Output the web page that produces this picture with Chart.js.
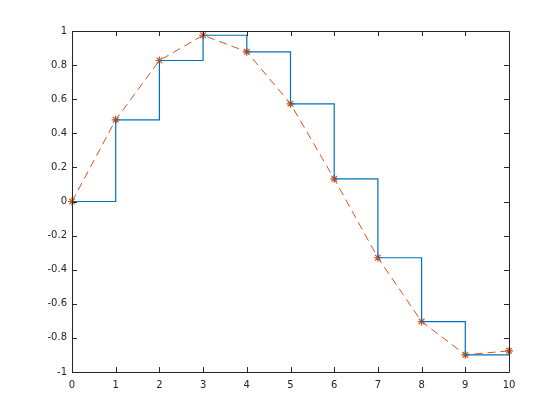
<!DOCTYPE html>
<html>
<head>
<meta charset="utf-8">
<script src="https://cdn.jsdelivr.net/npm/chart.js@4"></script>
<style>
  html, body { margin: 0; padding: 0; background: #fff; }
  canvas { display: block; }
</style>
</head>
<body>
<canvas id="stairsChart" width="560" height="420"></canvas>
<script>
// data
const xValues = [0, 1, 2, 3, 4, 5, 6, 7, 8, 9, 10];
const yValues = [0, 0.479, 0.827, 0.975, 0.878, 0.573, 0.133, -0.330, -0.704, -0.899, -0.876];
const xTicks = [0, 1, 2, 3, 4, 5, 6, 7, 8, 9, 10];
const yTicks = [-1, -0.8, -0.6, -0.4, -0.2, 0, 0.2, 0.4, 0.6, 0.8, 1];

const axisColor = "#262626";
const points = xValues.map(function (x, i) {
  return { x: x, y: yValues[i] };
});

// box around the plot area, ticks pointing inwards on all four sides
const boxTicks = {
  id: "boxTicks",
  afterDraw: function (chart) {
    const ctx = chart.ctx;
    const area = chart.chartArea;
    const xs = chart.scales.x;
    const ys = chart.scales.y;
    const len = 5;
    ctx.save();
    ctx.strokeStyle = axisColor;
    ctx.lineWidth = 1;
    ctx.beginPath();
    ctx.rect(area.left + 0.5, area.top + 0.5, area.right - area.left, area.bottom - area.top);
    xTicks.forEach(function (v) {
      const px = Math.round(xs.getPixelForValue(v)) + 0.5;
      ctx.moveTo(px, area.bottom);
      ctx.lineTo(px, area.bottom - len);
      ctx.moveTo(px, area.top);
      ctx.lineTo(px, area.top + len);
    });
    yTicks.forEach(function (v) {
      const py = Math.round(ys.getPixelForValue(v)) + 0.5;
      ctx.moveTo(area.left, py);
      ctx.lineTo(area.left + len, py);
      ctx.moveTo(area.right, py);
      ctx.lineTo(area.right - len, py);
    });
    ctx.stroke();
    ctx.restore();
  },
};

new Chart(document.getElementById("stairsChart"), {
  type: "line",
  data: {
    datasets: [
      {
        label: "stairs",
        data: points,
        stepped: true,
        borderColor: "#0072BD",
        borderWidth: 1.2,
        pointRadius: 0,
        fill: false,
      },
      {
        label: "curve",
        data: points,
        borderColor: "#D95319",
        borderWidth: 1,
        borderDash: [8, 5],
        tension: 0,
        pointStyle: "star",
        pointRadius: 4,
        pointBorderWidth: 1.2,
        pointBorderColor: "#D95319",
        pointBackgroundColor: "#D95319",
        fill: false,
        clip: false,
      },
    ],
  },
  options: {
    responsive: false,
    animation: false,
    layout: { padding: { top: 31, right: 51, left: 0, bottom: 0 } },
    plugins: {
      legend: { display: false },
      tooltip: { enabled: false },
    },
    scales: {
      x: {
        type: "linear",
        min: 0,
        max: 10,
        afterFit: function (scale) { scale.height = 48; },
        afterBuildTicks: function (scale) {
          scale.ticks = xTicks.map(function (v) { return { value: v }; });
        },
        grid: { display: false, drawTicks: false },
        border: { display: false },
        ticks: {
          color: axisColor,
          padding: 7,
          maxRotation: 0,
          font: { family: "DejaVu Sans", size: 10 },
        },
      },
      y: {
        type: "linear",
        min: -1,
        max: 1,
        afterFit: function (scale) { scale.width = 72; },
        afterBuildTicks: function (scale) {
          scale.ticks = yTicks.map(function (v) { return { value: v }; });
        },
        grid: { display: false, drawTicks: false },
        border: { display: false },
        ticks: {
          color: axisColor,
          padding: 5,
          font: { family: "DejaVu Sans", size: 10 },
          callback: function (v) { return String(Math.round(v * 10) / 10); },
        },
      },
    },
  },
  plugins: [boxTicks],
});
</script>
</body>
</html>
